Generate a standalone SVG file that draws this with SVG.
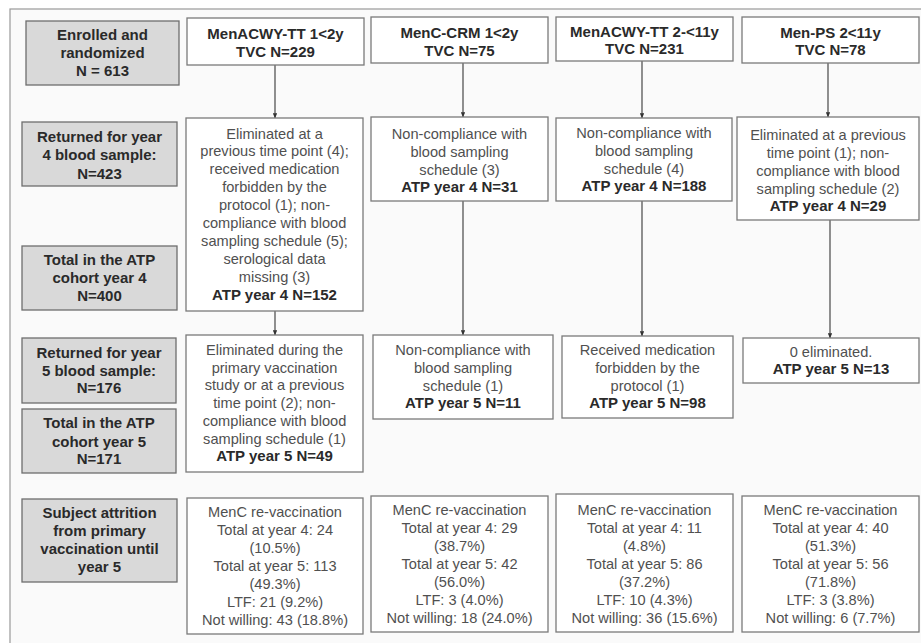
<svg xmlns="http://www.w3.org/2000/svg" width="921" height="643" viewBox="0 0 921 643">
<defs>
<style>
text{font-family:"Liberation Sans",Arial,sans-serif;text-anchor:middle}
.r{font-size:14.6px;fill:#505050}
.b{font-size:15px;font-weight:bold;fill:#2a2a2a}
.g{fill:#d9d9d9;stroke:#6e6e6e;stroke-width:1.3}
.w{fill:#ffffff;stroke:#7a7a7a;stroke-width:1.3}
.c{stroke:#555;stroke-width:1.3;fill:none;marker-end:url(#ah)}
</style>
<marker id="ah" viewBox="0 0 8 7" refX="7.5" refY="3.5" markerWidth="5" markerHeight="4.4" markerUnits="userSpaceOnUse" orient="auto">
<path d="M0,0 L8,3.5 L0,7 Z" fill="#333"/>
</marker>
</defs>
<rect x="0" y="0" width="921" height="643" fill="#ffffff"/>
<rect x="10" y="9" width="930" height="650" fill="#fafafa" stroke="#999" stroke-width="1.2"/>

<g id="connectors">
<line class="c" x1="275" y1="65" x2="275" y2="118"/>
<line class="c" x1="275" y1="311" x2="275" y2="335"/>
<line class="c" x1="463" y1="63" x2="463" y2="117"/>
<line class="c" x1="463" y1="201" x2="463" y2="335"/>
<line class="c" x1="642" y1="61" x2="642" y2="118"/>
<line class="c" x1="642" y1="201" x2="642" y2="336"/>
<line class="c" x1="828" y1="63" x2="828" y2="117"/>
<line class="c" x1="830" y1="220" x2="830" y2="338"/>
</g>

<g id="lbl-enrolled">
<rect class="g" x="26" y="21" width="153" height="64"/>
<text class="b" x="102.5" y="40">Enrolled and</text>
<text class="b" x="102.5" y="58">randomized</text>
<text class="b" x="102.5" y="76">N = 613</text>
</g>
<g id="lbl-returned4">
<rect class="g" x="22" y="122" width="155" height="64"/>
<text class="b" x="99.5" y="141.5">Returned for year</text>
<text class="b" x="99.5" y="160">4 blood sample:</text>
<text class="b" x="99.5" y="178.5">N=423</text>
</g>
<g id="lbl-total4">
<rect class="g" x="22" y="246" width="155" height="64"/>
<text class="b" x="99.5" y="265">Total in the ATP</text>
<text class="b" x="99.5" y="283">cohort year 4</text>
<text class="b" x="99.5" y="301">N=400</text>
</g>
<g id="lbl-returned5">
<rect class="g" x="22" y="338" width="154" height="65"/>
<text class="b" x="99" y="357.5">Returned for year</text>
<text class="b" x="99" y="375.5">5 blood sample:</text>
<text class="b" x="99" y="393">N=176</text>
</g>
<g id="lbl-total5">
<rect class="g" x="22" y="409" width="154" height="64"/>
<text class="b" x="99" y="428">Total in the ATP</text>
<text class="b" x="99" y="446.5">cohort year 5</text>
<text class="b" x="99" y="464">N=171</text>
</g>
<g id="lbl-attrition">
<rect class="g" x="22" y="499" width="155" height="83"/>
<text class="b" x="99.5" y="518">Subject attrition</text>
<text class="b" x="99.5" y="535.5">from primary</text>
<text class="b" x="99.5" y="553.5">vaccination until</text>
<text class="b" x="99.5" y="571.5">year 5</text>
</g>

<g id="c1-head">
<rect class="w" x="187" y="18" width="177" height="47"/>
<text class="b" x="275.5" y="38.5">MenACWY-TT 1&lt;2y</text>
<text class="b" x="275.5" y="56.5">TVC N=229</text>
</g>
<g id="c1-y4">
<rect class="w" x="186" y="118" width="177" height="193"/>
<text class="r" x="274.5" y="138.5">Eliminated at a</text>
<text class="r" x="274.5" y="156.4">previous time point (4);</text>
<text class="r" x="274.5" y="174.3">received medication</text>
<text class="r" x="274.5" y="192.2">forbidden by the</text>
<text class="r" x="274.5" y="210.1">protocol (1); non-</text>
<text class="r" x="274.5" y="228">compliance with blood</text>
<text class="r" x="274.5" y="245.9">sampling schedule (5);</text>
<text class="r" x="274.5" y="263.8">serological data</text>
<text class="r" x="274.5" y="281.7">missing (3)</text>
<text class="b" x="274.5" y="299.6">ATP year 4 N=152</text>
</g>
<g id="c1-y5">
<rect class="w" x="186" y="335" width="177" height="137"/>
<text class="r" x="274.5" y="355">Eliminated during the</text>
<text class="r" x="274.5" y="372.7">primary vaccination</text>
<text class="r" x="274.5" y="390.4">study or at a previous</text>
<text class="r" x="274.5" y="408.1">time point (2); non-</text>
<text class="r" x="274.5" y="425.8">compliance with blood</text>
<text class="r" x="274.5" y="443.5">sampling schedule (1)</text>
<text class="b" x="274.5" y="461.2">ATP year 5 N=49</text>
</g>
<g id="c1-att">
<rect class="w" x="187" y="498" width="176" height="136"/>
<text class="r" x="275" y="516.5">MenC re-vaccination</text>
<text class="r" x="275" y="534.5">Total at year 4: 24</text>
<text class="r" x="275" y="552.5">(10.5%)</text>
<text class="r" x="275" y="570.5">Total at year 5: 113</text>
<text class="r" x="275" y="588.5">(49.3%)</text>
<text class="r" x="275" y="606.5">LTF: 21 (9.2%)</text>
<text class="r" x="275" y="624.5">Not willing: 43 (18.8%)</text>
</g>

<g id="c2-head">
<rect class="w" x="371" y="17" width="177" height="46"/>
<text class="b" x="459.5" y="38">MenC-CRM 1&lt;2y</text>
<text class="b" x="459.5" y="56">TVC N=75</text>
</g>
<g id="c2-y4">
<rect class="w" x="371" y="117" width="177" height="84"/>
<text class="r" x="459.5" y="138.5">Non-compliance with</text>
<text class="r" x="459.5" y="156.5">blood sampling</text>
<text class="r" x="459.5" y="174.5">schedule (3)</text>
<text class="b" x="459.5" y="192">ATP year 4 N=31</text>
</g>
<g id="c2-y5">
<rect class="w" x="373" y="335" width="180" height="84"/>
<text class="r" x="463" y="355">Non-compliance with</text>
<text class="r" x="463" y="373">blood sampling</text>
<text class="r" x="463" y="390.5">schedule (1)</text>
<text class="b" x="463" y="408">ATP year 5 N=11</text>
</g>
<g id="c2-att">
<rect class="w" x="371" y="496" width="177" height="136"/>
<text class="r" x="459.5" y="515">MenC re-vaccination</text>
<text class="r" x="459.5" y="533">Total at year 4: 29</text>
<text class="r" x="459.5" y="551">(38.7%)</text>
<text class="r" x="459.5" y="569">Total at year 5: 42</text>
<text class="r" x="459.5" y="587">(56.0%)</text>
<text class="r" x="459.5" y="605">LTF: 3 (4.0%)</text>
<text class="r" x="459.5" y="623">Not willing: 18 (24.0%)</text>
</g>

<g id="c3-head">
<rect class="w" x="556" y="17" width="177" height="44"/>
<text class="b" x="644.5" y="37">MenACWY-TT 2-&lt;11y</text>
<text class="b" x="644.5" y="54">TVC N=231</text>
</g>
<g id="c3-y4">
<rect class="w" x="556" y="118" width="176" height="83"/>
<text class="r" x="644" y="138">Non-compliance with</text>
<text class="r" x="644" y="156">blood sampling</text>
<text class="r" x="644" y="173.5">schedule (4)</text>
<text class="b" x="644" y="191">ATP year 4 N=188</text>
</g>
<g id="c3-y5">
<rect class="w" x="562" y="336" width="171" height="82"/>
<text class="r" x="647.5" y="355">Received medication</text>
<text class="r" x="647.5" y="373">forbidden by the</text>
<text class="r" x="647.5" y="390.5">protocol (1)</text>
<text class="b" x="647.5" y="408">ATP year 5 N=98</text>
</g>
<g id="c3-att">
<rect class="w" x="556" y="494" width="177" height="138"/>
<text class="r" x="644.5" y="514.5">MenC re-vaccination</text>
<text class="r" x="644.5" y="532.5">Total at year 4: 11</text>
<text class="r" x="644.5" y="550.5">(4.8%)</text>
<text class="r" x="644.5" y="568.5">Total at year 5: 86</text>
<text class="r" x="644.5" y="586.5">(37.2%)</text>
<text class="r" x="644.5" y="604.5">LTF: 10 (4.3%)</text>
<text class="r" x="644.5" y="622.5">Not willing: 36 (15.6%)</text>
</g>

<g id="c4-head">
<rect class="w" x="742" y="17" width="177" height="46"/>
<text class="b" x="830.5" y="37.5">Men-PS 2&lt;11y</text>
<text class="b" x="830.5" y="55">TVC N=78</text>
</g>
<g id="c4-y4">
<rect class="w" x="737" y="117" width="182" height="103"/>
<text class="r" x="828" y="140">Eliminated at a previous</text>
<text class="r" x="828" y="158">time point (1); non-</text>
<text class="r" x="828" y="176">compliance with blood</text>
<text class="r" x="828" y="193.5">sampling schedule (2)</text>
<text class="b" x="828" y="211">ATP year 4 N=29</text>
</g>
<g id="c4-y5">
<rect class="w" x="743" y="338" width="176" height="45"/>
<text class="r" x="831" y="356.5">0 eliminated.</text>
<text class="b" x="831" y="374">ATP year 5 N=13</text>
</g>
<g id="c4-att">
<rect class="w" x="742" y="496" width="177" height="136"/>
<text class="r" x="830.5" y="515">MenC re-vaccination</text>
<text class="r" x="830.5" y="533">Total at year 4: 40</text>
<text class="r" x="830.5" y="551">(51.3%)</text>
<text class="r" x="830.5" y="569">Total at year 5: 56</text>
<text class="r" x="830.5" y="587">(71.8%)</text>
<text class="r" x="830.5" y="605">LTF: 3 (3.8%)</text>
<text class="r" x="830.5" y="623">Not willing: 6 (7.7%)</text>
</g>
</svg>
